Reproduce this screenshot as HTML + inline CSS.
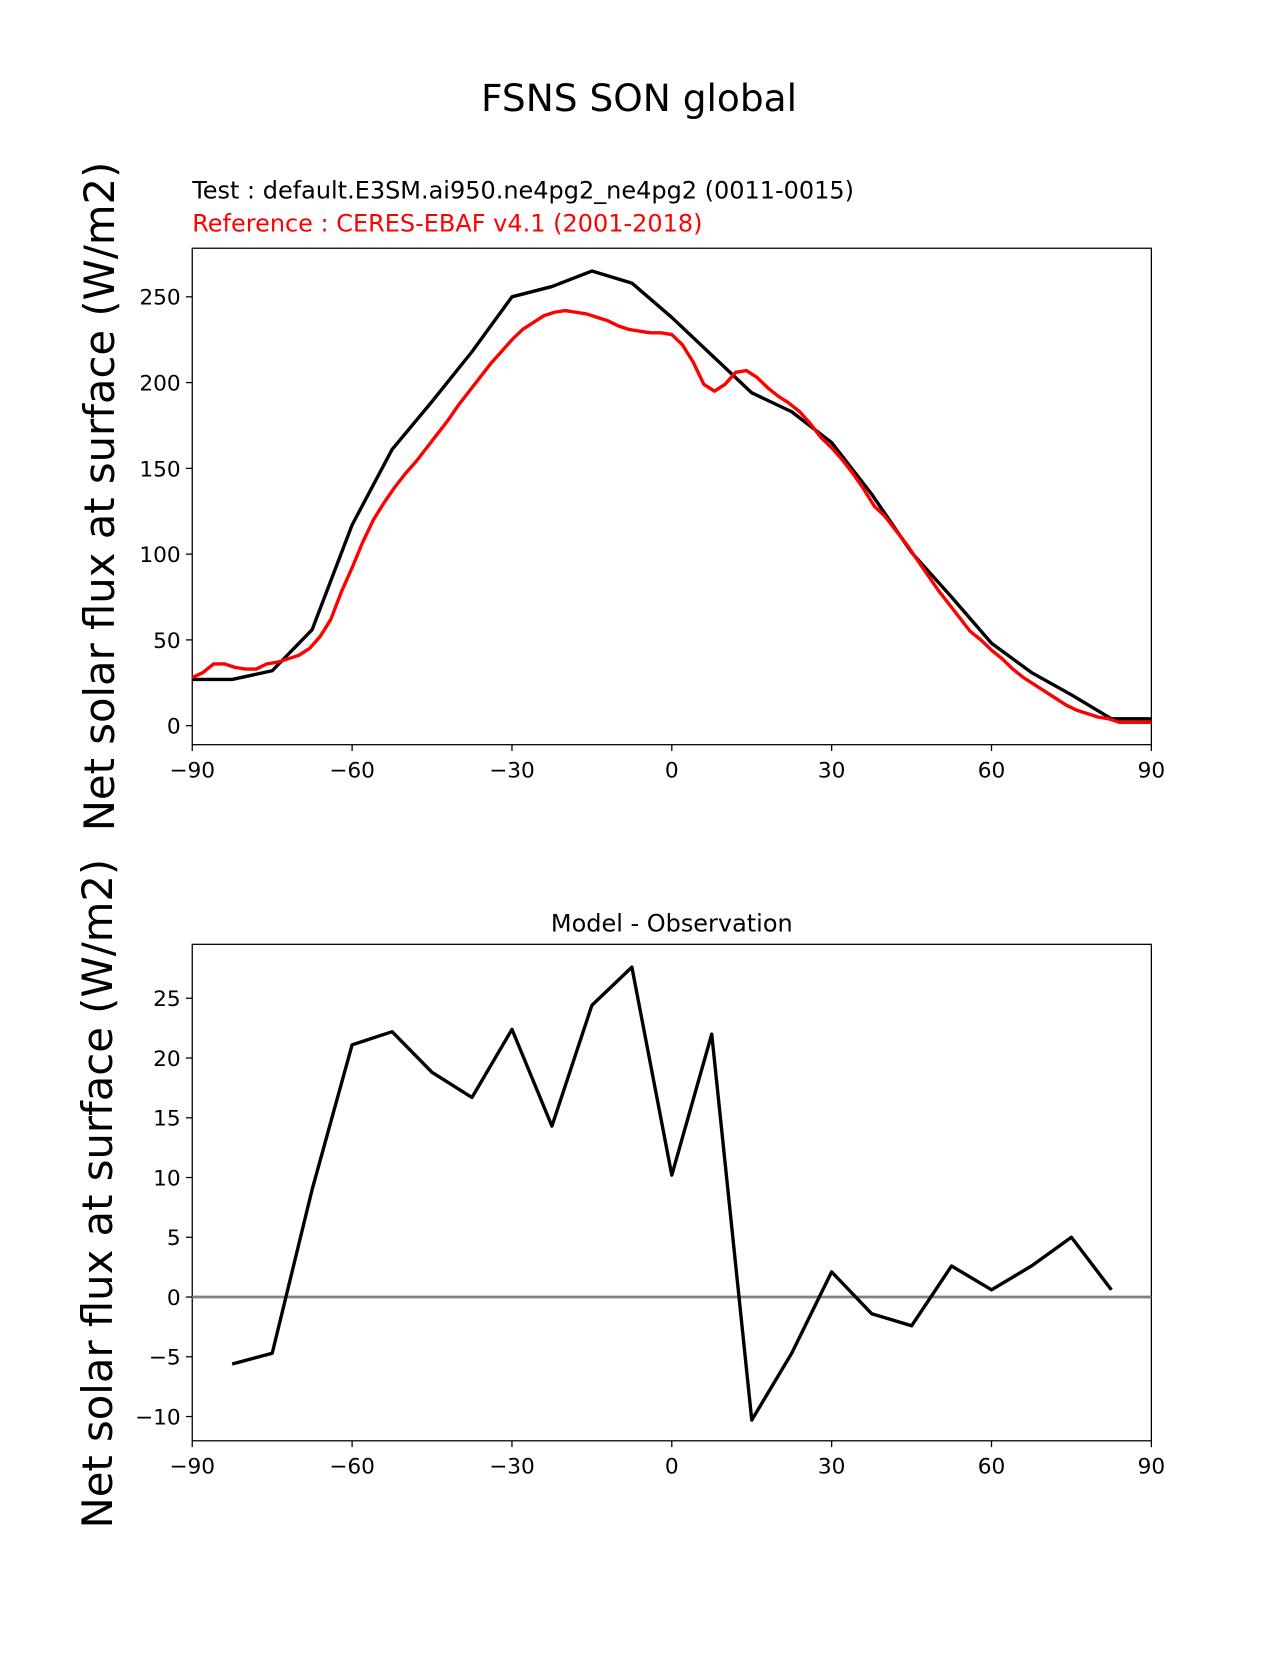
<!DOCTYPE html>
<html><head><meta charset="utf-8"><style>
body{margin:0;background:#fff}
svg text{font-family:"DejaVu Sans","Liberation Sans",sans-serif}
</style></head><body>
<svg id="chart" width="1275" height="1650" xmlns="http://www.w3.org/2000/svg">
<rect width="1275" height="1650" fill="#fff"/>
<g transform="scale(1.0563)">
<text x="605" y="105" font-size="35.5" text-anchor="middle">FSNS SON global</text>
<text x="182" y="188" font-size="22.7">Test : default.E3SM.ai950.ne4pg2_ne4pg2 (0011-0015)</text>
<text x="182" y="219" font-size="22.7" fill="red">Reference : CERES-EBAF v4.1 (2001-2018)</text>
<text x="636" y="882" font-size="22.7" text-anchor="middle">Model - Observation</text>
<text transform="translate(108,470) rotate(-90)" font-size="39.5" text-anchor="middle">Net solar flux at surface (W/m2)</text>
<text transform="translate(106,1130) rotate(-90)" font-size="39.5" text-anchor="middle">Net solar flux at surface (W/m2)</text>
<g id="g"></g>
</g>
</svg>
<script>
const latTest=[-90,-82.5,-75,-67.5,-60,-52.5,-45,-37.5,-30,-22.5,-15,-7.5,0,7.5,15,22.5,30,37.5,45,52.5,60,67.5,75,82.5,90];
const valTest=[27,27,32,56,117,161,189,218,250,256,265,258,238,216,194,183,165,135,101,75,48,31,18,4,4];
const latRef=[-90,-88,-86,-84,-82,-80,-78,-76,-74,-72,-70,-68,-66,-64,-62,-60,-58,-56,-54,-52,-50,-48,-46,-44,-42,-40,-38,-36,-34,-32,-30,-28,-26,-24,-22,-20,-18,-16,-14,-12,-10,-8,-6,-4,-2,0,2,4,6,8,10,12,14,16,18,20,22,24,26,28,30,32,34,36,38,40,42,44,46,48,50,52,54,56,58,60,62,64,66,68,70,72,74,76,78,80,82,84,86,88,90];
const valRef=[28,31,36,36,34,33,33,36,37,39,41,45,52,62,78,92,107,120,130,139,147,154,162,170,178,187,195,203,211,218,225,231,235,239,241,242,241,240,238,236,233,231,230,229,229,228,222,212,199,195,199,206,207,203,197,192,188,183,176,168,162,155,147,138,128,122,114,106,97,88,79,71,63,55,50,44,39,33,28,24,20,16,12,9,7,5,4,2,2,2,2];
const latDiff=[-82.5,-75,-67.5,-60,-52.5,-45,-37.5,-30,-22.5,-15,-7.5,0,7.5,15,22.5,30,37.5,45,52.5,60,67.5,75,82.5];
const valDiff=[-5.6,-4.7,9,21.1,22.2,18.8,16.7,22.4,14.3,24.4,27.6,10.2,22,-10.3,-4.7,2.1,-1.4,-2.4,2.6,0.6,2.6,5,0.6];
const xTicks=[-90,-60,-30,0,30,60,90];
const xTickLabels=["\u221290","\u221260","\u221230","0","30","60","90"];
const yTicksTop=[0,50,100,150,200,250];
const yTicksBot=[-10,-5,0,5,10,15,20,25];
const yTicksBotLabels=["\u221210","\u22125","0","5","10","15","20","25"];
const NS="http://www.w3.org/2000/svg";
const g=document.getElementById('g');
function el(t,a,p){const e=document.createElementNS(NS,t);for(const k in a)e.setAttribute(k,a[k]);(p||g).appendChild(e);return e;}
const X0=182,X1=1090;
const sx=v=>X0+(v+90)/180*(X1-X0);
const syT=v=>687-v*1.624;
const syB=v=>1227.9-v*11.314;
function axes(top,bot,sy,yt,ytl,name){
  let r=el('rect',{x:X0,y:top,width:X1-X0,height:bot-top,fill:'none',stroke:'#000','stroke-width':1.2});
  
  
  xTicks.forEach((t,i)=>{
    el('line',{x1:sx(t),x2:sx(t),y1:bot,y2:bot+6,stroke:'#000','stroke-width':1.2});
    let tx=el('text',{x:sx(t),y:bot+31,'font-size':20.5,'text-anchor':'middle'});
    tx.textContent=xTickLabels[i];
    
    
  });
  yt.forEach((t,i)=>{
    el('line',{x1:X0-6,x2:X0,y1:sy(t),y2:sy(t),stroke:'#000','stroke-width':1.2});
    let tx=el('text',{x:X0-11,y:sy(t)+7.5,'font-size':20.5,'text-anchor':'end'});
    tx.textContent=ytl?ytl[i]:String(t);
    
    
  });
}
function line(xs,ys,sy,color,name){
  const d=xs.map((x,i)=>(i?'L':'M')+sx(x).toFixed(1)+','+sy(ys[i]).toFixed(1)).join('');
  const p=el('path',{d:d,fill:'none',stroke:color,'stroke-width':3.2,'stroke-linejoin':'round'});
  
  
}
axes(235,705,syT,yTicksTop,null,'top');
line(latTest,valTest,syT,'#000','test-line');
line(latRef,valRef,syT,'red','reference-line');
axes(894,1364,syB,yTicksBot,yTicksBotLabels,'bottom');
const z=el('line',{x1:X0,x2:X1,y1:syB(0),y2:syB(0),stroke:'#808080','stroke-width':2.6});


line(latDiff,valDiff,syB,'#000','difference-line');
</script>
</body></html>
